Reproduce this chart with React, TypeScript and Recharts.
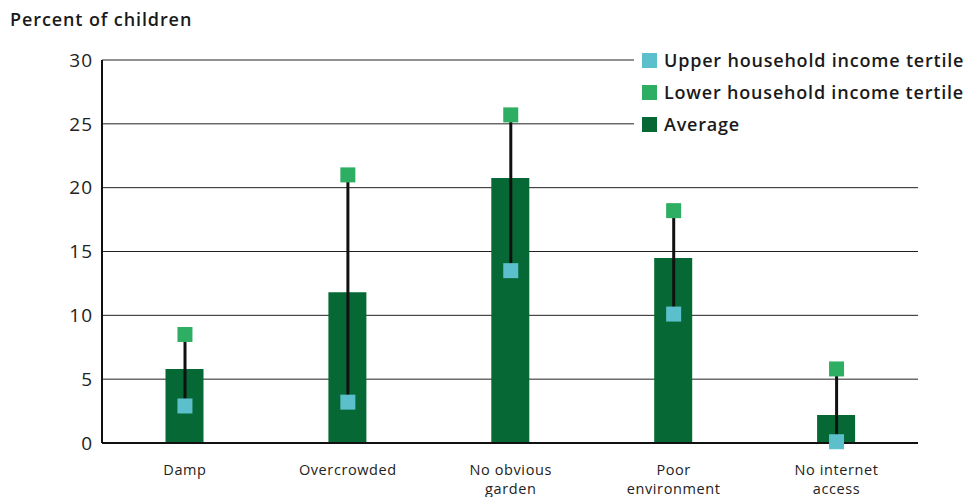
import {
  ComposedChart,
  Bar,
  Scatter,
  XAxis,
  YAxis,
  CartesianGrid,
  Legend,
} from 'recharts';

const categories = ['Damp', 'Overcrowded', 'No obvious\ngarden', 'Poor\nenvironment', 'No internet\naccess'];
const average = [5.8, 11.8, 20.75, 14.5, 2.2];
const upperTertile = [2.9, 3.2, 13.5, 10.1, 0.1];
const lowerTertile = [8.5, 21.0, 25.7, 18.2, 5.8];
const yTicks = [0, 5, 10, 15, 20, 25, 30];

const DARK = '#066935';
const LIGHT_BLUE = '#5bc0cb';
const GREEN = '#2eae62';
const FONT = '"Open Sans", sans-serif';

const data = categories.map((name, i) => ({
  name,
  average: average[i],
  upper: upperTertile[i],
  lower: lowerTertile[i],
  range: [upperTertile[i], lowerTertile[i]],
}));

const legendItems = [
  { label: 'Upper household income tertile', color: LIGHT_BLUE },
  { label: 'Lower household income tertile', color: GREEN },
  { label: 'Average', color: DARK },
];

const Square = (color: string) => (props: any) => {
  const { cx, cy } = props;
  if (cx == null || cy == null) return null;
  return <rect x={cx - 7.5} y={cy - 7.5} width={15} height={15} fill={color} />;
};

// one <text> per line so the two-line labels stay separate
const CategoryTick = (props: any) => {
  const { x, y, payload } = props;
  const lines = String(payload.value).split('\n');
  return (
    <g>
      {lines.map((l, i) => (
        <text
          key={i}
          x={x}
          y={y + 24 + i * 18.5}
          textAnchor="middle"
          fill="#222"
          fontSize={14.5}
          letterSpacing={0.6}
          fontFamily={FONT}
        >
          {l}
        </text>
      ))}
    </g>
  );
};

const LegendBox = () => (
  <div style={{ background: '#fff', fontFamily: FONT, paddingLeft: 8 }}>
    {legendItems.map((it) => (
      <div key={it.label} style={{ display: 'flex', alignItems: 'center', height: 32 }}>
        <span style={{ width: 15, height: 15, background: it.color, marginRight: 7 }} />
        <span
          style={{ fontSize: 18, fontWeight: 600, letterSpacing: 0.8, color: '#1a1a1a', whiteSpace: 'nowrap' }}
        >
          {it.label}
        </span>
      </div>
    ))}
  </div>
);

export default function App() {
  return (
    <div style={{ position: 'absolute', left: 0, top: 0, width: 971, height: 497, background: '#fff' }}>
      <div
        style={{
          position: 'absolute',
          left: 10,
          top: 7,
          fontFamily: FONT,
          fontSize: 18,
          fontWeight: 600,
          letterSpacing: 0.9,
          color: '#1a1a1a',
          zIndex: 2,
        }}
      >
        Percent of children
      </div>
      <ComposedChart width={971} height={497} data={data} margin={{ top: 60, right: 53, bottom: 4, left: 0 }}>
        <CartesianGrid vertical={false} stroke="#222" strokeWidth={1} />
        <XAxis
          xAxisId="cat"
          dataKey="name"
          interval={0}
          tickLine={false}
          axisLine={{ stroke: '#111', strokeWidth: 2 }}
          height={50}
          padding={{ left: 1.5, right: 0 }}
          tick={<CategoryTick />}
        />
        <XAxis xAxisId="rng" dataKey="name" hide padding={{ left: 1.5, right: 0 }} />
        <YAxis
          domain={[0, 30]}
          ticks={yTicks}
          width={102}
          tickLine={false}
          tickSize={0}
          tickMargin={9}
          axisLine={{ stroke: '#111', strokeWidth: 2 }}
          tick={{ fill: '#222', fontSize: 19, letterSpacing: 1, fontFamily: FONT }}
        />
        <Bar xAxisId="cat" dataKey="average" fill={DARK} barSize={38} isAnimationActive={false} />
        <Bar xAxisId="rng" dataKey="range" fill="#111" barSize={3} isAnimationActive={false} />
        <Scatter xAxisId="cat" dataKey="upper" shape={Square(LIGHT_BLUE)} isAnimationActive={false} />
        <Scatter xAxisId="cat" dataKey="lower" shape={Square(GREEN)} isAnimationActive={false} />
        <Legend
          layout="vertical"
          align="center"
          verticalAlign="middle"
          content={<LegendBox />}
          wrapperStyle={{ top: 44, left: 634, width: 337 }}
        />
      </ComposedChart>
    </div>
  );
}
